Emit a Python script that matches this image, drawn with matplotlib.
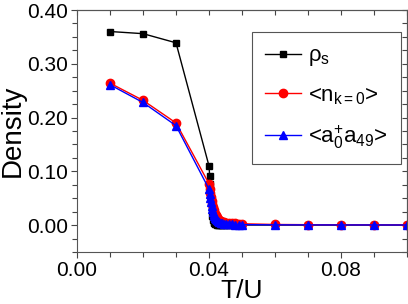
import matplotlib
matplotlib.use('Agg')
import matplotlib.pyplot as plt
from matplotlib.ticker import MultipleLocator, FormatStrFormatter

plt.rcParams['font.family'] = ['Liberation Sans', 'DejaVu Sans']
plt.rcParams['mathtext.fontset'] = 'custom'
plt.rcParams['mathtext.rm'] = 'Liberation Sans'
plt.rcParams['mathtext.it'] = 'Liberation Sans'
plt.rcParams['mathtext.default'] = 'rm'

# temperatures T/U
t_low = [0.01, 0.02, 0.03]
t_dense = [0.0400, 0.0402, 0.0404, 0.0406, 0.0408, 0.0410, 0.0412, 0.0414,
           0.0416, 0.0418, 0.0420, 0.0423, 0.0426, 0.0430, 0.0435, 0.0440,
           0.0445, 0.0450, 0.0460, 0.0470, 0.0480, 0.0490, 0.0500]
t_high = [0.06, 0.07, 0.08, 0.09, 0.10]
temps = t_low + t_dense + t_high

rho_s = [0.360, 0.356, 0.339,
         0.110, 0.092, 0.076, 0.050, 0.030, 0.017, 0.009, 0.005,
         0.003, 0.002, 0.0015, 0.001, 0.0008, 0.0006, 0.0005, 0.0004,
         0.0003, 0.0003, 0.0002, 0.0002, 0.0002, 0.0002, 0.0002,
         0.0001, 0.0001, 0.0001, 0.0001, 0.0001]
n_k0 = [0.264, 0.232, 0.190,
        0.077, 0.068, 0.060, 0.052, 0.045, 0.039, 0.033, 0.028,
        0.024, 0.021, 0.018, 0.015, 0.012, 0.010, 0.008, 0.0065,
        0.0055, 0.0048, 0.004, 0.0034, 0.003, 0.0027, 0.0025,
        0.0012, 0.0008, 0.0006, 0.0005, 0.0004]
a0_a49 = [0.261, 0.228, 0.185,
          0.067, 0.058, 0.050, 0.043, 0.036, 0.030, 0.025, 0.021,
          0.017, 0.014, 0.012, 0.009, 0.007, 0.0055, 0.004, 0.003,
          0.0025, 0.002, 0.0016, 0.0013, 0.0011, 0.001, 0.0009,
          0.0005, 0.0004, 0.0003, 0.0003, 0.0002]

fig = plt.figure(figsize=(4.08, 3.04), dpi=100)
ax = fig.add_axes([77 / 408, 52 / 304, 330 / 408, 242 / 304])

ax.plot(temps, rho_s, color='black', marker='s', markersize=5, lw=1,
        label=r'$\rho_s$')
ax.plot(temps, n_k0, color='red', marker='o', markersize=6, lw=1,
        label=r'<n$_{k=0}$>')
ax.plot(temps, a0_a49, color='blue', marker='^', markersize=6, lw=1,
        label=r'<a$_0^{+}$a$_{49}$>')

ax.set_xlim(0, 0.1)
ax.set_ylim(-0.05, 0.40)
ax.xaxis.set_major_locator(MultipleLocator(0.04))
ax.xaxis.set_minor_locator(MultipleLocator(0.01))
ax.yaxis.set_minor_locator(MultipleLocator(0.025))
ax.xaxis.set_major_formatter(FormatStrFormatter('%.2f'))
ax.yaxis.set_major_formatter(FormatStrFormatter('%.2f'))
ax.set_yticks([0.0, 0.1, 0.2, 0.3, 0.4])

ax.tick_params(which='both', direction='out', labelsize=15, width=0.8,
               colors='#444444', labelcolor='black', pad=2)
ax.tick_params(which='major', length=4.5)
ax.tick_params(which='minor', length=3.5)
for s in ax.spines.values():
    s.set_color('#555555')
    s.set_linewidth(0.8)

# inward ticks on the top and right frame
top = ax.secondary_xaxis('top')
top.xaxis.set_major_locator(MultipleLocator(0.01))
top.tick_params(direction='in', length=3.5, width=0.8, colors='#444444',
                labeltop=False)
top.spines['top'].set_color('#555555')
right = ax.secondary_yaxis('right')
right.yaxis.set_major_locator(MultipleLocator(0.025))
right.tick_params(direction='in', length=3.5, width=0.8, colors='#444444',
                  labelright=False)
right.spines['right'].set_color('#555555')

ax.set_xlabel('T/U', fontsize=19, labelpad=-1)
ax.set_ylabel('Density', fontsize=20, labelpad=1)

leg = ax.legend(loc='upper left', bbox_to_anchor=(252 / 408, 1 - 32 / 304),
                bbox_transform=fig.transFigure, fontsize=16, fancybox=False,
                edgecolor='#555555', framealpha=1, handlelength=1.6,
                handletextpad=0.3, borderpad=0.6, labelspacing=0.75,
                borderaxespad=0)
leg.get_frame().set_linewidth(0.8)

fig.savefig('out.png', dpi=100)
